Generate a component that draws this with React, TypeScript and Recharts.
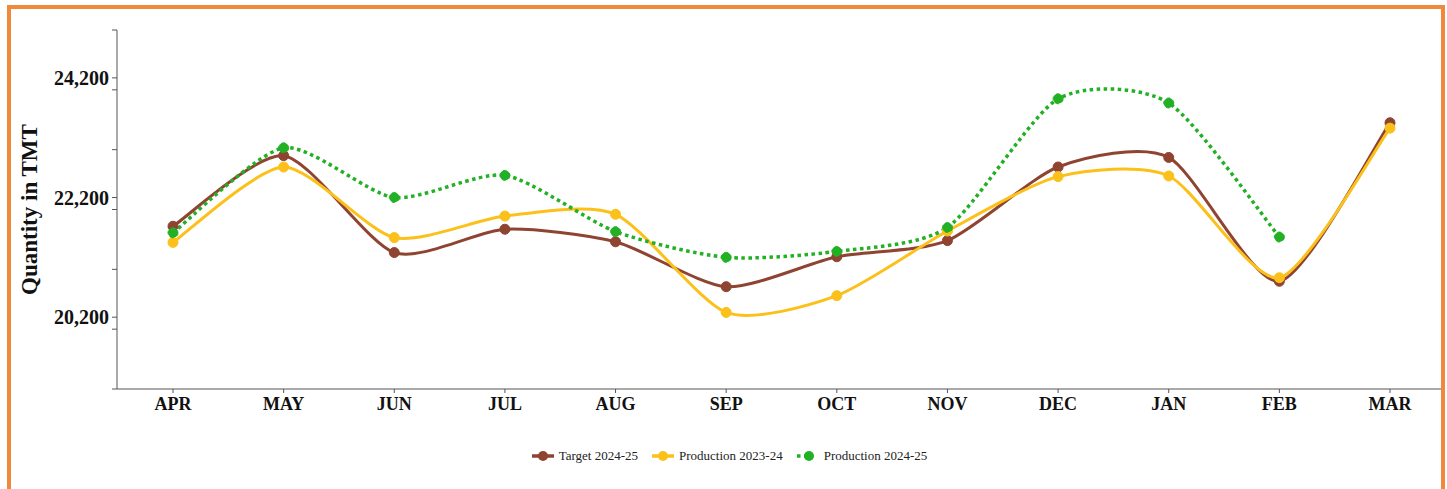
import React from 'react';
import { LineChart, Line, XAxis, YAxis } from 'recharts';

const months = ['APR', 'MAY', 'JUN', 'JUL', 'AUG', 'SEP', 'OCT', 'NOV', 'DEC', 'JAN', 'FEB', 'MAR'];
const target2425 = [21720, 22900, 21280, 21670, 21460, 20710, 21210, 21480, 22710, 22870, 20800, 23450];
const prod2324 = [21450, 22710, 21530, 21890, 21920, 20280, 20560, 21640, 22550, 22560, 20860, 23360];
const prod2425 = [21610, 23030, 22200, 22570, 21630, 21200, 21300, 21700, 23850, 23780, 21540, null];

const yTicks = [19000, 20000, 20200, 21000, 22000, 22200, 23000, 24000, 24200, 25000];
const yLabelled = [20200, 22200, 24200];

const series = [
  { key: 'target', name: 'Target 2024-25', color: '#8F4331', dashed: false },
  { key: 'p2324', name: 'Production 2023-24', color: '#FBC11A', dashed: false },
  { key: 'p2425', name: 'Production 2024-25', color: '#22B024', dashed: true },
];

const data = months.map((m, i) => ({
  month: m,
  target: target2425[i],
  p2324: prod2324[i],
  p2425: prod2425[i],
}));

// spreadsheet-style smoothed line through every point
const smoothCurve = (context: any) => {
  let pts: number[][] = [];
  return {
    areaStart() {},
    areaEnd() {},
    lineStart() {
      pts = [];
    },
    point(x: number, y: number) {
      pts.push([+x, +y]);
    },
    lineEnd() {
      if (!pts.length) return;
      context.moveTo(pts[0][0], pts[0][1]);
      const k = 0.12;
      for (let i = 0; i < pts.length - 1; i++) {
        const p0 = pts[i - 1] || pts[i];
        const p1 = pts[i];
        const p2 = pts[i + 1];
        const p3 = pts[i + 2] || p2;
        context.bezierCurveTo(
          p1[0] + (p2[0] - p0[0]) * k,
          p1[1] + (p2[1] - p0[1]) * k,
          p2[0] - (p3[0] - p1[0]) * k,
          p2[1] - (p3[1] - p1[1]) * k,
          p2[0],
          p2[1]
        );
      }
    },
  };
};

const axisColor = '#555';
const serif = '"Liberation Serif", "DejaVu Serif", serif';

const LegendIcon: React.FC<{ color: string; dashed: boolean }> = ({ color, dashed }) => (
  <svg width={22} height={12} style={{ marginRight: 5 }}>
    <line
      x1={0}
      y1={6}
      x2={dashed ? 8 : 22}
      y2={6}
      stroke={color}
      strokeWidth={3.5}
      strokeDasharray={dashed ? '3.5 3.5' : undefined}
    />
    <circle cx={dashed ? 12 : 11} cy={6} r={5} fill={color} />
  </svg>
);

const App: React.FC = () => {
  return (
    <div style={{ position: 'absolute', left: 0, top: 0, width: 1447, height: 489, background: '#fff' }}>
      <div style={{ position: 'absolute', left: 0, top: 0 }}>
        <LineChart width={1447} height={489} data={data} margin={{ top: 30, right: 2, bottom: 70, left: 0 }}>
          <XAxis
            dataKey="month"
            height={30}
            padding={{ left: 56, right: 55 }}
            stroke={axisColor}
            tickSize={4}
            tickMargin={4}
            tick={{ fill: '#111', fontFamily: serif, fontWeight: 700, fontSize: 18 }}
          />
          <YAxis
            width={117}
            domain={[19000, 25000]}
            ticks={yTicks}
            interval={0}
            stroke={axisColor}
            tickSize={5}
            tickMargin={3}
            tickFormatter={(v: number) => (yLabelled.includes(v) ? v.toLocaleString('en-US') : '')}
            tick={{ fill: '#111', fontFamily: serif, fontWeight: 700, fontSize: 20 }}
            label={{
              value: 'Quantity in TMT',
              angle: -90,
              position: 'insideLeft',
              offset: 29,
              style: { textAnchor: 'middle', fill: '#111', fontFamily: serif, fontWeight: 700, fontSize: 23 },
            }}
          />
          {series.map((s) => (
            <Line
              key={s.key}
              dataKey={s.key}
              name={s.name}
              type={smoothCurve as any}
              stroke={s.color}
              strokeWidth={s.dashed ? 3.5 : 3}
              strokeDasharray={s.dashed ? '3.5 3.5' : undefined}
              dot={{ r: 5, fill: s.color, stroke: s.color, strokeWidth: 1 }}
              activeDot={false}
              isAnimationActive={false}
            />
          ))}
        </LineChart>
      </div>
      <div
        style={{
          position: 'absolute',
          left: 6,
          top: 448,
          width: 1447,
          display: 'flex',
          justifyContent: 'center',
          alignItems: 'center',
          fontFamily: serif,
          fontSize: 13,
          color: '#222',
        }}
      >
        {series.map((s, i) => (
          <div
            key={s.key}
            style={{ display: 'flex', alignItems: 'center', marginRight: i < series.length - 1 ? 14 : 0 }}
          >
            <LegendIcon color={s.color} dashed={s.dashed} />
            <span>{s.name}</span>
          </div>
        ))}
      </div>
      <div
        style={{
          position: 'absolute',
          left: 7,
          top: 5,
          width: 1438,
          height: 484,
          border: '4px solid #F0893B',
          borderBottom: 'none',
          boxSizing: 'border-box',
          pointerEvents: 'none',
        }}
      />
    </div>
  );
};

export default App;
